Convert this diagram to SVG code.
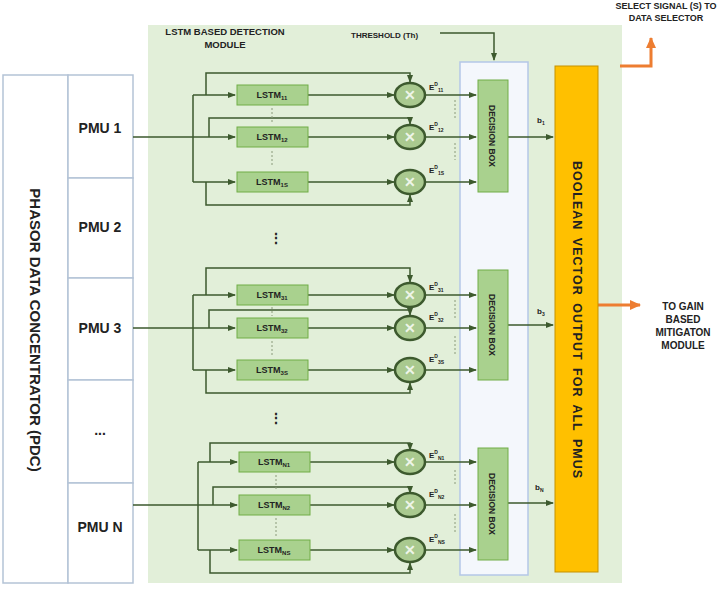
<svg xmlns="http://www.w3.org/2000/svg" width="720" height="589" viewBox="0 0 720 589">
<style>
text{font-family:"Liberation Sans",Arial,sans-serif;font-weight:bold;fill:#222}
text.x{fill:#eef5e8;font-size:14px}
.ln{stroke:#3d5a2e;stroke-width:1.5;fill:none}
.la{stroke:#3d5a2e;stroke-width:1.5;fill:none;marker-end:url(#ah)}
.lstm{fill:#a9d18e;stroke:#70ad47;stroke-width:1}
.mul{fill:#a9c98f;stroke:#3d5a2e;stroke-width:2.5}
.db{fill:#a9d18e;stroke:#70ad47}
.pmu{fill:#fff;stroke:#b4c3d6;stroke-width:1.5}
.lt{font-size:9px}
.e{font-size:8px}
.or{stroke:#ed7d31;stroke-width:3;fill:none;marker-end:url(#oh)}
.ds{stroke:#8a9a7a;stroke-width:1;stroke-dasharray:2 2}
</style>
<defs>
<marker id="ah" markerWidth="8" markerHeight="8" refX="7" refY="4" orient="auto" markerUnits="userSpaceOnUse"><path d="M0,1 L8,4 L0,7z" fill="#3d5a2e"/></marker>
<marker id="oh" markerWidth="12" markerHeight="12" refX="10" refY="6" orient="auto" markerUnits="userSpaceOnUse"><path d="M0,1 L11,6 L0,11z" fill="#ed7d31"/></marker>
</defs>
<rect width="720" height="589" fill="#fff"/>
<rect id="panel" x="148" y="25" width="474" height="558" fill="#e2efd9"/>
<text x="225" y="35" font-size="9.5" text-anchor="middle">LSTM BASED DETECTION</text>
<text x="225" y="48" font-size="9.5" text-anchor="middle">MODULE</text>
<g id="pdc"><rect x="3" y="75" width="65" height="508" class="pmu"/>
<text transform="translate(30,330) rotate(90)" font-size="15" text-anchor="middle">PHASOR DATA CONCENTRATOR (PDC)</text></g>
<g id="pmus">
<rect x="68" y="75" width="65" height="103" class="pmu"/><text x="100" y="133" text-anchor="middle" font-size="14">PMU 1</text>
<rect x="68" y="178" width="65" height="100" class="pmu"/><text x="100" y="232" text-anchor="middle" font-size="14">PMU 2</text>
<rect x="68" y="278" width="65" height="102" class="pmu"/><text x="100" y="333" text-anchor="middle" font-size="14">PMU 3</text>
<rect x="68" y="380" width="65" height="103" class="pmu"/><text x="100" y="435" text-anchor="middle" font-size="14">...</text>
<rect x="68" y="483" width="65" height="100" class="pmu"/><text x="100" y="532" text-anchor="middle" font-size="14">PMU N</text>
</g>
<rect id="dcol" x="460" y="62" width="68" height="513" fill="#f4f7fc" stroke="#b4c7e7" stroke-width="1.5"/>
<g id="connectors">
<path class="la" d="M440,33 H494 V60"/>
<path class="ln" d="M133,137 H193 M193,95 V182"/>
<path class="la" d="M193,95 H235"/><path class="la" d="M193,137 H235"/><path class="la" d="M193,182 H235"/>
<path class="la" d="M308,95 H394"/><path class="la" d="M308,137 H394"/><path class="la" d="M308,182 H394"/>
<path class="la" d="M206,95 V73 H410 V82"/><path class="la" d="M209,137 V118 H410 V124"/><path class="la" d="M206,182 V205 H410 V195"/>
<path class="la" d="M426,95 H476"/><path class="la" d="M426,137 H476"/><path class="la" d="M426,182 H476"/>
<path class="la" d="M508,137 H553"/>
<path class="ln" d="M133,328 H193 M193,295 V370"/>
<path class="la" d="M193,295 H235"/><path class="la" d="M193,328 H235"/><path class="la" d="M193,370 H235"/>
<path class="la" d="M308,295 H394"/><path class="la" d="M308,328 H394"/><path class="la" d="M308,370 H394"/>
<path class="la" d="M206,295 V268 H410 V282"/><path class="la" d="M209,328 V310 H410 V315"/><path class="la" d="M206,370 V393 H410 V383"/>
<path class="la" d="M426,295 H476"/><path class="la" d="M426,328 H476"/><path class="la" d="M426,370 H476"/>
<path class="la" d="M508,325 H553"/>
<path class="ln" d="M133,505 H198 M198,462 V550"/>
<path class="la" d="M198,462 H237"/><path class="la" d="M198,505 H237"/><path class="la" d="M198,550 H237"/>
<path class="la" d="M310,462 H394"/><path class="la" d="M310,505 H394"/><path class="la" d="M310,550 H394"/>
<path class="la" d="M210,462 V443 H410 V450"/><path class="la" d="M213,505 V487 H410 V493"/><path class="la" d="M210,550 V573 H410 V563"/>
<path class="la" d="M426,462 H476"/><path class="la" d="M426,505 H476"/><path class="la" d="M426,550 H476"/>
<path class="la" d="M508,503 H553"/>
<path class="or" d="M598,305 H640"/>
<path class="or" d="M620,66 H651 V38"/>
<path class="ds" d="M272,108 V122 M272,151 V166 M455,100 V118 M455,143 V160 M272,307 V316 M272,341 V356 M455,300 V318 M455,336 V356 M276,475 V491 M276,518 V536 M455,470 V486 M455,514 V532"/>
</g>
<g id="lstms">
<g id="l11"><rect class="lstm" x="237" y="85" width="71" height="20"/><text class="lt" x="272" y="98" text-anchor="middle">LSTM<tspan font-size="6" dy="2">11</tspan></text></g>
<g id="l12"><rect class="lstm" x="237" y="127" width="71" height="20"/><text class="lt" x="272" y="140" text-anchor="middle">LSTM<tspan font-size="6" dy="2">12</tspan></text></g>
<g id="l1s"><rect class="lstm" x="237" y="172" width="71" height="20"/><text class="lt" x="272" y="185" text-anchor="middle">LSTM<tspan font-size="6" dy="2">1S</tspan></text></g>
<g id="l31"><rect class="lstm" x="237" y="285" width="71" height="20"/><text class="lt" x="272" y="298" text-anchor="middle">LSTM<tspan font-size="6" dy="2">31</tspan></text></g>
<g id="l32"><rect class="lstm" x="237" y="318" width="71" height="20"/><text class="lt" x="272" y="331" text-anchor="middle">LSTM<tspan font-size="6" dy="2">32</tspan></text></g>
<g id="l3s"><rect class="lstm" x="237" y="360" width="71" height="20"/><text class="lt" x="272" y="373" text-anchor="middle">LSTM<tspan font-size="6" dy="2">3S</tspan></text></g>
<g id="ln1"><rect class="lstm" x="239" y="452" width="71" height="20"/><text class="lt" x="274" y="465" text-anchor="middle">LSTM<tspan font-size="6" dy="2">N1</tspan></text></g>
<g id="ln2"><rect class="lstm" x="239" y="495" width="71" height="20"/><text class="lt" x="274" y="508" text-anchor="middle">LSTM<tspan font-size="6" dy="2">N2</tspan></text></g>
<g id="lns"><rect class="lstm" x="239" y="540" width="71" height="20"/><text class="lt" x="274" y="553" text-anchor="middle">LSTM<tspan font-size="6" dy="2">NS</tspan></text></g>
</g>
<g id="muls">
<ellipse class="mul" cx="410" cy="95" rx="15" ry="12"/><text class="x" x="410" y="100" text-anchor="middle">✕</text>
<ellipse class="mul" cx="410" cy="137" rx="15" ry="12"/><text class="x" x="410" y="142" text-anchor="middle">✕</text>
<ellipse class="mul" cx="410" cy="182" rx="15" ry="12"/><text class="x" x="410" y="187" text-anchor="middle">✕</text>
<ellipse class="mul" cx="410" cy="295" rx="15" ry="12"/><text class="x" x="410" y="300" text-anchor="middle">✕</text>
<ellipse class="mul" cx="410" cy="328" rx="15" ry="12"/><text class="x" x="410" y="333" text-anchor="middle">✕</text>
<ellipse class="mul" cx="410" cy="370" rx="15" ry="12"/><text class="x" x="410" y="375" text-anchor="middle">✕</text>
<ellipse class="mul" cx="410" cy="462" rx="15" ry="12"/><text class="x" x="410" y="467" text-anchor="middle">✕</text>
<ellipse class="mul" cx="410" cy="505" rx="15" ry="12"/><text class="x" x="410" y="510" text-anchor="middle">✕</text>
<ellipse class="mul" cx="410" cy="550" rx="15" ry="12"/><text class="x" x="410" y="555" text-anchor="middle">✕</text>
</g>
<g id="elabels">
<text class="e" x="429" y="90">E<tspan font-size="5" dy="-4">D</tspan><tspan font-size="5" dy="6">11</tspan></text>
<text class="e" x="429" y="130">E<tspan font-size="5" dy="-4">D</tspan><tspan font-size="5" dy="6">12</tspan></text>
<text class="e" x="429" y="173">E<tspan font-size="5" dy="-4">D</tspan><tspan font-size="5" dy="6">1S</tspan></text>
<text class="e" x="429" y="290">E<tspan font-size="5" dy="-4">D</tspan><tspan font-size="5" dy="6">31</tspan></text>
<text class="e" x="429" y="320">E<tspan font-size="5" dy="-4">D</tspan><tspan font-size="5" dy="6">32</tspan></text>
<text class="e" x="429" y="362">E<tspan font-size="5" dy="-4">D</tspan><tspan font-size="5" dy="6">3S</tspan></text>
<text class="e" x="429" y="458">E<tspan font-size="5" dy="-4">D</tspan><tspan font-size="5" dy="6">N1</tspan></text>
<text class="e" x="429" y="497">E<tspan font-size="5" dy="-4">D</tspan><tspan font-size="5" dy="6">N2</tspan></text>
<text class="e" x="429" y="542">E<tspan font-size="5" dy="-4">D</tspan><tspan font-size="5" dy="6">NS</tspan></text>
</g>
<g id="dots">
<text x="276" y="243" text-anchor="middle" font-size="14">⋮</text>
<text x="276" y="423" text-anchor="middle" font-size="14">⋮</text>
</g>
<g id="decision">
<g id="db1"><rect class="db" x="478" y="80" width="30" height="112"/><text transform="translate(489,136) rotate(90)" font-size="8.5" text-anchor="middle">DECISION BOX</text></g>
<g id="db2"><rect class="db" x="478" y="270" width="30" height="110"/><text transform="translate(489,325) rotate(90)" font-size="8.5" text-anchor="middle">DECISION BOX</text></g>
<g id="db3"><rect class="db" x="478" y="448" width="30" height="112"/><text transform="translate(489,504) rotate(90)" font-size="8.5" text-anchor="middle">DECISION BOX</text></g>
</g>
<text x="351" y="38" font-size="8">THRESHOLD (Th)</text>
<text x="537" y="123" font-size="8">b<tspan font-size="5" dy="2">1</tspan></text>
<text x="537" y="314" font-size="8">b<tspan font-size="5" dy="2">3</tspan></text>
<text x="535" y="490" font-size="8">b<tspan font-size="5" dy="2">N</tspan></text>
<g id="bool"><rect x="555" y="66" width="43" height="506" fill="#ffc000" stroke="#c59100"/>
<text transform="translate(573,320) rotate(90)" font-size="12.5" text-anchor="middle" letter-spacing="1" word-spacing="3">BOOLEAN VECTOR OUTPUT FOR ALL PMUS</text></g>
<g id="out">
<text x="683" y="310" font-size="10" text-anchor="middle">TO GAIN</text>
<text x="683" y="323" font-size="10" text-anchor="middle">BASED</text>
<text x="683" y="336" font-size="10" text-anchor="middle">MITIGATON</text>
<text x="683" y="349" font-size="10" text-anchor="middle">MODULE</text>
<text x="666" y="9" font-size="9" text-anchor="middle">SELECT SIGNAL (S) TO</text>
<text x="666" y="21" font-size="9" text-anchor="middle">DATA SELECTOR</text>
</g>
</svg>
